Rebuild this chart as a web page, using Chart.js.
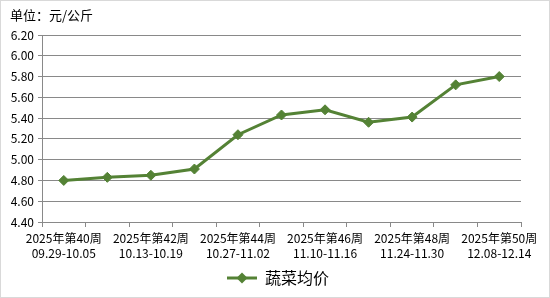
<!DOCTYPE html>
<html lang="zh">
<head>
    <meta charset="UTF-8">
    <title>蔬菜均价</title>
    <script src="https://cdn.jsdelivr.net/npm/chart.js"></script>
    <style>
        body {
            margin: 0;
            background: #fff;
        }

        #box {
            width: 548px;
            height: 296px;
            border: 1px solid #d9d9d9;
        }
    </style>
</head>
<body>
    <div id="box"><canvas id="chart" width="548" height="296"></canvas></div>
    <script>
        const weeks = ['2025年第40周', '2025年第41周', '2025年第42周', '2025年第43周', '2025年第44周', '2025年第45周',
            '2025年第46周', '2025年第47周', '2025年第48周', '2025年第49周', '2025年第50周'];
        const dates = ['09.29-10.05', '10.06-10.12', '10.13-10.19', '10.20-10.26', '10.27-11.02', '11.03-11.09',
            '11.10-11.16', '11.17-11.23', '11.24-11.30', '12.01-12.07', '12.08-12.14'];
        const prices = [4.80, 4.83, 4.85, 4.91, 5.24, 5.43, 5.48, 5.36, 5.41, 5.72, 5.80];
        const seriesName = '蔬菜均价';
        const unitText = '单位：元/公斤';
        const yMin = 4.4, yMax = 6.2, yStep = 0.2;

        const green = '#548235';
        const gridGray = '#898989';
        const font = '"Noto Sans CJK SC", "DejaVu Sans", sans-serif';

        // legend sample: line with a diamond in the middle
        const legendIcon = (() => {
            const c = document.createElement('canvas');
            c.width = 30; c.height = 12;
            const g = c.getContext('2d');
            g.strokeStyle = green;
            g.lineWidth = 3;
            g.beginPath(); g.moveTo(0, 6); g.lineTo(30, 6); g.stroke();
            g.fillStyle = green;
            g.beginPath();
            g.moveTo(15, 0.5); g.lineTo(20.5, 6); g.lineTo(15, 11.5); g.lineTo(9.5, 6);
            g.closePath(); g.fill();
            return c;
        })();

        const unitTitle = {
            id: 'unitTitle',
            afterLayout(chart) {
                // legend box stops at the right padding, so recentre it on the canvas
                chart.legend.left += 17;
                chart.legend.right += 17;
            },
            afterDraw(chart) {
                const ctx = chart.ctx;
                ctx.save();
                ctx.font = '13px ' + font;
                ctx.fillStyle = '#000';
                ctx.textBaseline = 'alphabetic';
                ctx.fillText(unitText, 9, 19);
                ctx.restore();
            }
        };

        new Chart(document.getElementById('chart'), {
            type: 'line',
            data: {
                labels: weeks.map((w, i) => [w, dates[i]]),
                datasets: [{
                    label: seriesName,
                    data: prices,
                    borderColor: green,
                    backgroundColor: green,
                    borderWidth: 3,
                    pointStyle: 'rectRot',
                    pointRadius: 5,
                    pointBackgroundColor: green,
                    pointBorderColor: green,
                    pointBorderWidth: 1,
                    tension: 0,
                    fill: false
                }]
            },
            options: {
                responsive: false,
                animation: false,
                layout: { padding: { left: 0, right: 28, top: 34, bottom: 1 } },
                plugins: {
                    legend: {
                        position: 'bottom',
                        labels: {
                            usePointStyle: true,
                            pointStyle: legendIcon,
                            pointStyleWidth: 30,
                            boxHeight: 12,
                            color: '#000',
                            font: { family: font, size: 16 },
                            padding: 8
                        }
                    },
                    tooltip: { enabled: false }
                },
                scales: {
                    x: {
                        offset: true,
                        grid: {
                            offset: true,
                            drawOnChartArea: false,
                            drawTicks: true,
                            tickLength: 5,
                            color: gridGray
                        },
                        border: { display: true, color: gridGray },
                        ticks: {
                            autoSkip: false,
                            maxRotation: 0,
                            padding: 4,
                            color: '#000',
                            font: { family: font, size: 12, lineHeight: 1.25 },
                            callback: (v, i) => i % 2 === 0 ? [weeks[i], dates[i]] : ''
                        },
                        afterFit: s => { s.height = 40; }
                    },
                    y: {
                        min: yMin,
                        max: yMax,
                        grid: { color: gridGray, tickLength: 4 },
                        border: { display: true, color: gridGray },
                        ticks: {
                            stepSize: yStep,
                            padding: 4,
                            color: '#000',
                            font: { family: font, size: 12 },
                            callback: v => v.toFixed(2)
                        },
                        afterFit: s => { s.width = 41; }
                    }
                }
            },
            plugins: [unitTitle]
        });
    </script>
</body>
</html>
